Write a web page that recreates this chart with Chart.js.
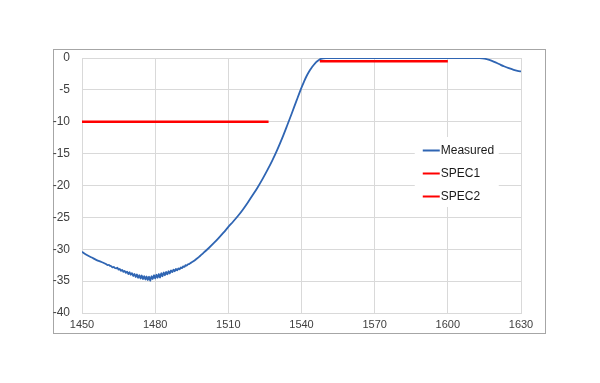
<!DOCTYPE html>
<html>
<head>
<meta charset="utf-8">
<script src="https://cdn.jsdelivr.net/npm/chart.js@4/dist/chart.umd.min.js"></script>
<style>
  html, body { margin: 0; padding: 0; background: #ffffff; }
  #wrap { width: 600px; height: 383px; }
</style>
</head>
<body>
<div id="wrap"><canvas id="c" width="600" height="383"></canvas></div>
<script>
// ---- data ----
const seriesLabels = ["Measured", "SPEC1", "SPEC2"];

const measuredNm = [
  1450, 1452, 1454, 1456, 1458,
  1460, 1460.5, 1461, 1461.5, 1462, 1462.5, 1463, 1463.5, 1464, 1464.5,
  1465, 1465.5, 1466, 1466.5, 1467, 1467.5, 1468, 1468.5, 1469, 1469.5,
  1470, 1470.5, 1471, 1471.5, 1472, 1472.5, 1473, 1473.5, 1474, 1474.5,
  1475, 1475.5, 1476, 1476.5, 1477, 1477.5, 1478, 1478.5, 1479, 1479.5,
  1480, 1480.5, 1481, 1481.5, 1482, 1482.5, 1483, 1483.5, 1484, 1484.5,
  1485, 1485.5, 1486, 1486.5, 1487, 1487.5, 1488, 1488.5, 1489, 1489.5,
  1490, 1490.5, 1491, 1491.5, 1492, 1492.5, 1493, 1493.5, 1494, 1494.5,
  1495, 1496, 1497, 1498, 1499, 1500,
  1502, 1504, 1506, 1508, 1510, 1512, 1514, 1516, 1518, 1520,
  1522, 1524, 1526, 1528, 1530, 1532, 1534, 1536, 1538, 1540,
  1541, 1542, 1543, 1544, 1545, 1546, 1547, 1548, 1549, 1550,
  1560, 1570, 1580, 1590, 1600, 1610, 1613, 1615, 1617, 1619,
  1621, 1623, 1625, 1627, 1629, 1630
];
const measuredDb = [
  -30.4, -30.9, -31.3, -31.7, -32.0,
  -32.35, -32.5, -32.45, -32.6, -32.65, -32.85, -32.75, -32.95, -33.0, -32.9,
  -33.2, -33.1, -33.4, -33.25, -33.55, -33.4, -33.7, -33.5, -33.9, -33.6,
  -34.0, -33.75, -34.2, -33.85, -34.35, -33.95, -34.5, -34.05, -34.6, -34.1,
  -34.7, -34.2, -34.75, -34.25, -34.85, -34.3, -34.95, -34.2, -34.7, -34.05,
  -34.6, -34.0, -34.5, -33.85, -34.45, -33.75, -34.25, -33.65, -34.1, -33.55,
  -33.95, -33.45, -33.8, -33.3, -33.6, -33.2, -33.45, -33.1, -33.3, -33.0,
  -33.15, -32.85, -32.95, -32.7, -32.75, -32.5, -32.55, -32.35, -32.3, -32.15,
  -32.05, -31.8, -31.5, -31.2, -30.85, -30.5,
  -29.8, -29.05, -28.25, -27.4, -26.5, -25.65, -24.75, -23.75, -22.65, -21.5,
  -20.3, -19.0, -17.6, -16.1, -14.45, -12.65, -10.7, -8.7, -6.65, -4.65,
  -3.75, -2.9, -2.2, -1.6, -1.1, -0.65, -0.35, -0.15, -0.05, 0,
  0, 0, 0, 0, 0, 0, -0.02, -0.1, -0.3, -0.6,
  -0.95, -1.3, -1.6, -1.85, -2.05, -2.1
];

const spec1Nm = [1450, 1526.5];
const spec1Db = [-10, -10];
const spec2Nm = [1547.5, 1600];
const spec2Db = [-0.5, -0.5];

const xTickValues = [1450, 1480, 1510, 1540, 1570, 1600, 1630];
const yTickValues = [0, -5, -10, -15, -20, -25, -30, -35, -40];

// ---- build ----
const toPts = (xs, ys) => xs.map((x, i) => ({ x: x, y: ys[i] }));

const gridColor = '#d9d9d9';
const textColor = '#404040';
const fontFamily = "'Liberation Sans', 'DejaVu Sans', Arial, sans-serif";

const framePlugin = {
  id: 'frame',
  beforeDraw(chart) {
    const ctx = chart.ctx;
    ctx.save();
    ctx.fillStyle = '#ffffff';
    ctx.fillRect(0, 0, chart.width, chart.height);
    ctx.strokeStyle = '#a6a6a6';
    ctx.lineWidth = 1;
    ctx.strokeRect(53.5, 49.5, 492, 284);
    ctx.restore();
  }
};

const legendPlugin = {
  id: 'innerLegend',
  afterDatasetsDraw(chart) {
    const ctx = chart.ctx;
    const a = chart.chartArea;
    ctx.save();
    const bx = a.left + (a.right - a.left) * 0.758;
    const by = a.top + 79;
    ctx.fillStyle = '#ffffff';
    ctx.fillRect(bx, by, 84, 70);
    ctx.font = "12px " + fontFamily;
    ctx.textBaseline = 'middle';
    ctx.textAlign = 'left';
    chart.data.datasets.forEach((ds, i) => {
      const y = by + 13 + i * 23;
      ctx.strokeStyle = ds.borderColor;
      ctx.lineWidth = 2;
      ctx.beginPath();
      ctx.moveTo(bx + 8, y + 0.5);
      ctx.lineTo(bx + 25, y + 0.5);
      ctx.stroke();
      ctx.fillStyle = '#1a1a1a';
      ctx.fillText(ds.label, bx + 26, y + 1);
    });
    ctx.restore();
  }
};

new Chart(document.getElementById('c'), {
  type: 'line',
  data: {
    datasets: [
      {
        label: seriesLabels[0],
        data: toPts(measuredNm, measuredDb),
        borderColor: '#2f65b3',
        borderWidth: 1.8,
        pointRadius: 0,
        cubicInterpolationMode: 'monotone',
        order: 3
      },
      {
        label: seriesLabels[1],
        data: toPts(spec1Nm, spec1Db),
        borderColor: '#ff0000',
        borderWidth: 2.5,
        pointRadius: 0,
        order: 1
      },
      {
        label: seriesLabels[2],
        data: toPts(spec2Nm, spec2Db),
        borderColor: '#ff0000',
        borderWidth: 2.5,
        pointRadius: 0,
        order: 2
      }
    ]
  },
  options: {
    responsive: false,
    animation: false,
    events: [],
    layout: { padding: { left: 0, top: 58, right: 79, bottom: 0 } },
    plugins: {
      legend: { display: false },
      tooltip: { enabled: false }
    },
    scales: {
      x: {
        type: 'linear',
        min: 1450,
        max: 1630,
        afterBuildTicks(s) { s.ticks = xTickValues.map(v => ({ value: v })); },
        afterFit(s) { s.height = 70; },
        grid: { color: gridColor, lineWidth: 1, drawTicks: false },
        border: { color: gridColor, width: 1 },
        ticks: {
          color: textColor,
          font: { size: 11, family: fontFamily },
          padding: 5,
          maxRotation: 0,
          autoSkip: false,
          callback: (v) => String(v)
        }
      },
      y: {
        type: 'linear',
        min: -40,
        max: 0,
        afterBuildTicks(s) { s.ticks = yTickValues.map(v => ({ value: v })); },
        afterFit(s) { s.width = 82; },
        grid: { color: gridColor, lineWidth: 1, drawTicks: false },
        border: { color: gridColor, width: 1 },
        ticks: {
          color: textColor,
          font: { size: 12, family: fontFamily },
          padding: 12,
          autoSkip: false,
          callback: (v) => String(v)
        }
      }
    }
  },
  plugins: [framePlugin, legendPlugin]
});
</script>
</body>
</html>
